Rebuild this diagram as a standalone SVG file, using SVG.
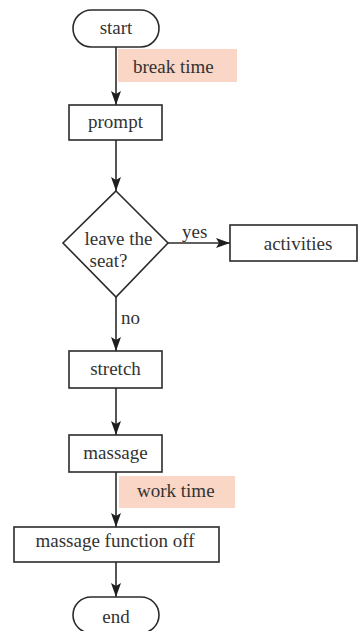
<svg xmlns="http://www.w3.org/2000/svg" width="358" height="631" viewBox="0 0 358 631">
<defs>
<style>
.n{fill:#fff;stroke:#2b2b2b;stroke-width:1.6}
.t{font-family:"Liberation Serif","Times New Roman",serif;font-size:19px;fill:#333;text-anchor:middle}
.l{font-family:"Liberation Serif","Times New Roman",serif;font-size:19px;fill:#333}
.c{stroke:#2b2b2b;stroke-width:1.6;fill:none;marker-end:url(#ah)}
.hl{fill:#f9d6c6}
</style>
<marker id="ah" viewBox="0 0 14 10" refX="14" refY="5" markerWidth="14" markerHeight="10" orient="auto" markerUnits="userSpaceOnUse">
<path d="M0,0 L14,5 L0,10 L3,5 Z" fill="#1e1e1e"/>
</marker>
</defs>
<g id="highlights">
<rect class="hl" x="118" y="49" width="119" height="33"/>
<rect class="hl" x="119" y="476" width="116" height="32"/>
</g>
<g id="connectors">
<path class="c" d="M116,47 V105"/>
<path class="c" d="M116,140 V191"/>
<path class="c" d="M168,243 H230"/>
<path class="c" d="M116,297 V351"/>
<path class="c" d="M116,388 V435"/>
<path class="c" d="M116,472 V527"/>
<path class="c" d="M116,562 V597"/>
<text class="l" x="182" y="238">yes</text>
<text class="l" x="121" y="324">no</text>
<text class="l" x="133" y="73">break time</text>
<text class="l" x="137" y="497">work time</text>
</g>
<g id="start">
<rect class="n" x="73" y="10" width="86" height="37" rx="18.5"/>
<text class="t" x="116" y="34">start</text>
</g>
<g id="prompt">
<rect class="n" x="69" y="105" width="93" height="35"/>
<text class="t" x="115.5" y="128">prompt</text>
</g>
<g id="decision">
<polygon class="n" points="116,191 168,243 116,297 63,243"/>
<text class="t" x="118.5" y="245">leave the</text>
<text class="t" x="108.5" y="267">seat?</text>
</g>
<g id="activities">
<rect class="n" x="230" y="225" width="127" height="36"/>
<text class="t" x="298" y="250">activities</text>
</g>
<g id="stretch">
<rect class="n" x="69" y="351" width="93" height="37"/>
<text class="t" x="115.5" y="375">stretch</text>
</g>
<g id="massage">
<rect class="n" x="69" y="435" width="93" height="37"/>
<text class="t" x="115.5" y="459">massage</text>
</g>
<g id="massage-off">
<rect class="n" x="14" y="527" width="205" height="35"/>
<text class="t" x="115" y="547">massage function off</text>
</g>
<g id="end">
<rect class="n" x="73" y="597" width="86" height="36" rx="18"/>
<text class="t" x="116" y="623">end</text>
</g>
</svg>
